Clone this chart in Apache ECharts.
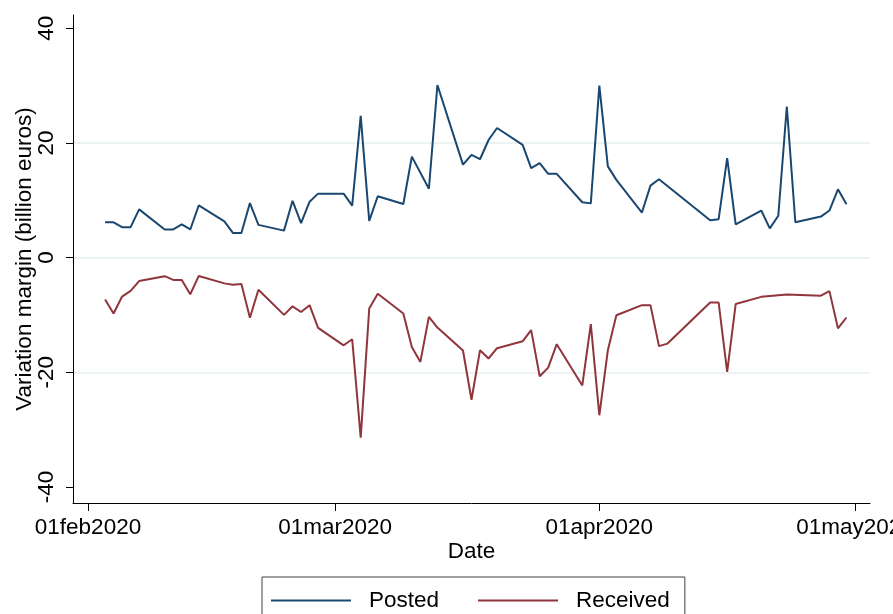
<!DOCTYPE html>
<html><head><meta charset="utf-8">
<script src="https://cdn.jsdelivr.net/npm/echarts@6/dist/echarts.min.js"></script>
<style>html,body{margin:0;padding:0;background:#fff}#c{width:893px;height:614px}</style>
</head><body><div id="c"></div>
<script>
const postedDates = ['2020-02-03','2020-02-04','2020-02-05','2020-02-06','2020-02-07','2020-02-10','2020-02-11','2020-02-12','2020-02-13','2020-02-14','2020-02-17','2020-02-18','2020-02-19','2020-02-20','2020-02-21','2020-02-24','2020-02-25','2020-02-26','2020-02-27','2020-02-28','2020-03-02','2020-03-03','2020-03-04','2020-03-05','2020-03-06','2020-03-09','2020-03-10','2020-03-12','2020-03-13','2020-03-16','2020-03-17','2020-03-18','2020-03-19','2020-03-20','2020-03-23','2020-03-24','2020-03-25','2020-03-26','2020-03-27','2020-03-30','2020-03-31','2020-04-01','2020-04-02','2020-04-03','2020-04-06','2020-04-07','2020-04-08','2020-04-14','2020-04-15','2020-04-16','2020-04-17','2020-04-20','2020-04-21','2020-04-22','2020-04-23','2020-04-24','2020-04-27','2020-04-28','2020-04-29','2020-04-30'];
const postedValues = [6.15,6.15,5.3,5.3,8.4,4.9,4.9,5.8,4.9,9.1,6.3,4.3,4.3,9.5,5.7,4.7,9.9,6.0,9.75,11.15,11.15,9.05,24.7,6.4,10.7,9.35,17.6,12.0,30.1,16.2,17.9,17.15,20.5,22.6,19.65,15.6,16.45,14.6,14.6,9.65,9.45,30.0,15.9,13.55,7.85,12.55,13.65,6.5,6.7,17.35,5.8,8.2,5.1,7.3,26.35,6.15,7.15,8.2,11.9,9.3];
const receivedDates = ['2020-02-03','2020-02-04','2020-02-05','2020-02-06','2020-02-07','2020-02-10','2020-02-11','2020-02-12','2020-02-13','2020-02-14','2020-02-17','2020-02-18','2020-02-19','2020-02-20','2020-02-21','2020-02-24','2020-02-25','2020-02-26','2020-02-27','2020-02-28','2020-03-02','2020-03-03','2020-03-04','2020-03-05','2020-03-06','2020-03-09','2020-03-10','2020-03-11','2020-03-12','2020-03-13','2020-03-16','2020-03-17','2020-03-18','2020-03-19','2020-03-20','2020-03-23','2020-03-24','2020-03-25','2020-03-26','2020-03-27','2020-03-30','2020-03-31','2020-04-01','2020-04-02','2020-04-03','2020-04-06','2020-04-07','2020-04-08','2020-04-09','2020-04-14','2020-04-15','2020-04-16','2020-04-17','2020-04-20','2020-04-23','2020-04-27','2020-04-28','2020-04-29','2020-04-30'];
const receivedValues = [-7.3,-9.75,-6.8,-5.8,-4.1,-3.25,-3.9,-3.9,-6.4,-3.2,-4.5,-4.75,-4.6,-10.5,-5.6,-10.0,-8.5,-9.5,-8.3,-12.25,-15.3,-14.25,-31.4,-8.9,-6.3,-9.75,-15.6,-18.2,-10.35,-12.2,-16.2,-24.8,-16.15,-17.6,-15.8,-14.6,-12.65,-20.7,-19.2,-15.1,-22.3,-11.6,-27.5,-16.15,-10.05,-8.3,-8.3,-15.45,-15.0,-7.85,-7.85,-19.95,-8.1,-6.85,-6.45,-6.65,-5.85,-12.35,-10.45];
const xTickDates = ['2020-02-01','2020-03-01','2020-04-01','2020-05-01'];
const yTickValues = [-40,-20,0,20,40];
const seriesNames = ['Posted','Received'];
const monthAbbr = ['jan','feb','mar','apr','may','jun','jul','aug','sep','oct','nov','dec'];

const DAY = 86400000;
function toUTC(s){const p=s.split('-').map(Number);return Date.UTC(p[0],p[1]-1,p[2]);}
const ORIGIN = toUTC(xTickDates[0]);
function toDay(s){return Math.round((toUTC(s)-ORIGIN)/DAY);}
function dayLabel(v){const d=new Date(ORIGIN+Math.round(v)*DAY);const dd=d.getUTCDate();return (dd<10?'0':'')+dd+monthAbbr[d.getUTCMonth()]+d.getUTCFullYear();}
const FONT = "'Liberation Sans', Arial, sans-serif";
const FS = 22.5;
const xTicks = xTickDates.map(toDay);

const chart = echarts.init(document.getElementById('c'), null, {renderer:'canvas'});
chart.setOption({
  animation:false,
  backgroundColor:'#ffffff',
  textStyle:{fontFamily:FONT},
  grid:{left:73,right:23,top:15,bottom:111,containLabel:false,outerBoundsMode:'none'},
  xAxis:{
    type:'value',
    min: xTicks[0]-1.76, max: xTicks[xTicks.length-1]+1.76,
    name:'Date', nameLocation:'middle', nameGap:37, nameMoveOverlap:false,
    nameTextStyle:{fontSize:FS,color:'#000',fontFamily:FONT},
    axisLine:{show:true,onZero:false,lineStyle:{color:'#000',width:1}},
    axisTick:{show:true,length:8,customValues:xTicks,lineStyle:{color:'#000'}},
    axisLabel:{show:true,customValues:xTicks,margin:13,fontSize:FS,color:'#000',fontFamily:FONT,hideOverlap:false,
      formatter:function(v){return dayLabel(v);}},
    splitLine:{show:false}
  },
  yAxis:{
    type:'value', min:-42.8, max:42.3, splitNumber:4,
    name:'Variation margin (billion euros)', nameLocation:'middle', nameGap:37, nameRotate:90, nameMoveOverlap:false,
    nameTextStyle:{fontSize:FS,color:'#000',fontFamily:FONT},
    axisLine:{show:true,onZero:false,lineStyle:{color:'#000',width:1}},
    axisTick:{show:true,length:7,customValues:yTickValues,lineStyle:{color:'#000'}},
    axisLabel:{show:true,customValues:yTickValues,rotate:90,margin:15,fontSize:FS,color:'#000',fontFamily:FONT},
    splitLine:{show:true,showMinLine:false,showMaxLine:false,lineStyle:{color:'#e6eff2',width:1.5}}
  },
  legend:{
    data:seriesNames, left:262, top:577, orient:'horizontal',
    padding:[12,15,20,8], itemGap:38, itemWidth:80, itemHeight:14,
    borderColor:'#404040', borderWidth:1, borderRadius:0, backgroundColor:'#fff',
    itemStyle:{opacity:0},
    textStyle:{fontSize:FS,color:'#000',fontFamily:FONT,padding:[0,0,0,13]}
  },
  series:[
    {name:seriesNames[0],type:'line',symbol:'none',showSymbol:false,z:3,
     data:postedDates.map((d,i)=>[toDay(d),postedValues[i]]),
     lineStyle:{color:'#1a476f',width:2},itemStyle:{color:'#1a476f'},emphasis:{disabled:true}},
    {name:seriesNames[1],type:'line',symbol:'none',showSymbol:false,z:3,
     data:receivedDates.map((d,i)=>[toDay(d),receivedValues[i]]),
     lineStyle:{color:'#90353b',width:2},itemStyle:{color:'#90353b'},emphasis:{disabled:true}}
  ]
});
</script>
</body></html>
